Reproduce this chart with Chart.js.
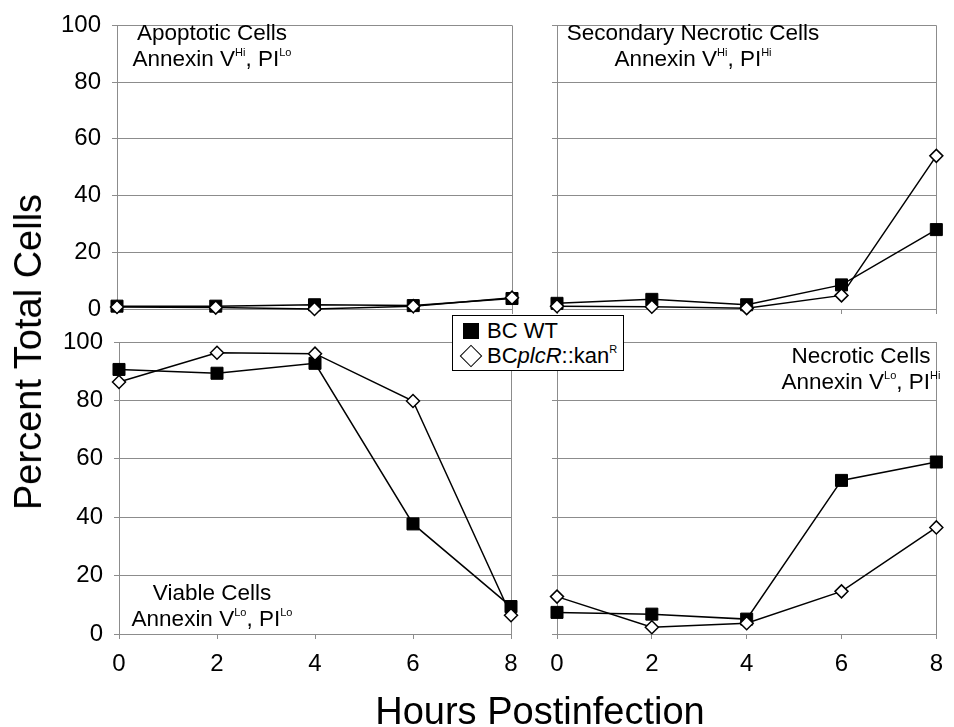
<!DOCTYPE html>
<html>
<head>
<meta charset="utf-8">
<script src="https://cdn.jsdelivr.net/npm/chart.js@4.4.1/dist/chart.umd.min.js"></script>
<style>
    body { margin: 0; background: #fff; }
    #wrap { position: relative; width: 954px; height: 727px; overflow: hidden; font-family: 'Liberation Sans', Arial, sans-serif; color: #000; }
    #wrap canvas { position: absolute; left: 0; top: 0; }
    .lbl { position: absolute; font-size: 22.5px; line-height: 26px; text-align: center; white-space: nowrap; transform: translateX(-50%); }
    .lbl sup, #legend sup { font-size: 11px; vertical-align: baseline; position: relative; top: -10px; }
    .title { position: absolute; font-size: 38px; line-height: 38px; white-space: nowrap; }
    #legend { position: absolute; left: 452px; top: 315px; width: 170px; height: 54px; border: 1.5px solid #000; background: #fff; }
    #legend .txt { position: absolute; left: 34px; font-size: 22px; line-height: 24px; white-space: nowrap; }
</style>
</head>
<body>
<div id="wrap">
    <canvas id="apoptotic" width="954" height="727"></canvas>
    <canvas id="secNecrotic" width="954" height="727"></canvas>
    <canvas id="viable" width="954" height="727"></canvas>
    <canvas id="necrotic" width="954" height="727"></canvas>

    <div class="lbl" style="left:212px; top:20px;">Apoptotic Cells<br>Annexin V<sup>Hi</sup>, PI<sup>Lo</sup></div>
    <div class="lbl" style="left:693px; top:20px;">Secondary Necrotic Cells<br>Annexin V<sup>Hi</sup>, PI<sup>Hi</sup></div>
    <div class="lbl" style="left:212px; top:580px;">Viable Cells<br>Annexin V<sup>Lo</sup>, PI<sup>Lo</sup></div>
    <div class="lbl" style="left:861px; top:343px;">Necrotic Cells<br>Annexin V<sup>Lo</sup>, PI<sup>Hi</sup></div>

    <div class="title" style="left:28px; top:352px; transform: translate(-50%, -50%) rotate(-90deg);">Percent Total Cells</div>
    <div class="title" style="left:540px; top:692px; transform: translateX(-50%);">Hours Postinfection</div>

    <div id="legend">
        <div style="position:absolute; left:10px; top:7px; width:16px; height:16px; background:#000;"></div>
        <div style="position:absolute; left:10px; top:32px; width:14px; height:14px; border:1.5px solid #000; background:#fff; transform: rotate(45deg);"></div>
        <div class="txt" style="top:3px;">BC WT</div>
        <div class="txt" style="top:28px;">BC<i>plcR</i>::kan<sup>R</sup></div>
    </div>
</div>

<script>
// hours postinfection
const hours = [0, 2, 4, 6, 8];
const yTicks = [0, 20, 40, 60, 80, 100];

// percent of total cells
const apoptoticWT = [1.0, 1.0, 1.5, 1.2, 3.7];
const apoptoticMut = [0.7, 0.5, 0.0, 1.0, 4.0];

const secNecroticWT = [2.0, 3.4, 1.5, 8.5, 28.0];
const secNecroticMut = [1.0, 0.8, 0.3, 4.8, 54.0];

const viableWT = [90.6, 89.3, 92.7, 37.7, 9.4];
const viableMut = [86.3, 96.3, 96.0, 79.8, 6.4];

const necroticWT = [7.4, 6.8, 5.1, 52.6, 58.9];
const necroticMut = [12.8, 2.3, 3.7, 14.6, 36.5];

const gridGray = '#8c8c8c';
const fontFamily = "'Liberation Sans', Arial, sans-serif";
const Y_W = 60;
const X_H = 40;

function toPoints(values) {
    return hours.map((h, i) => ({ x: h, y: values[i] }));
}

function makePanel(id, box, wt, mut, showY, showX) {
    const ctx = document.getElementById(id).getContext('2d');
    return new Chart(ctx, {
        type: 'line',
        data: {
            datasets: [
                {
                    label: 'BC WT',
                    data: toPoints(wt),
                    borderColor: '#000',
                    borderWidth: 1.5,
                    pointStyle: 'rect',
                    pointRadius: 8.5,
                    pointBackgroundColor: '#000',
                    pointBorderColor: '#000',
                    pointBorderWidth: 1,
                    clip: false,
                    order: 1
                },
                {
                    label: 'BCplcR::kanR',
                    data: toPoints(mut),
                    borderColor: '#000',
                    borderWidth: 1.5,
                    pointStyle: 'rectRot',
                    pointRadius: 6.5,
                    pointBackgroundColor: '#fff',
                    pointBorderColor: '#000',
                    pointBorderWidth: 1.5,
                    clip: false,
                    order: 0
                }
            ]
        },
        options: {
            responsive: false,
            animation: false,
            devicePixelRatio: 1,
            layout: {
                autoPadding: false,
                padding: {
                    left: box.left - Y_W,
                    top: box.top,
                    right: 954 - box.right,
                    bottom: 727 - box.bottom - X_H
                }
            },
            plugins: {
                legend: { display: false },
                tooltip: { enabled: false }
            },
            scales: {
                x: {
                    type: 'linear',
                    min: 0,
                    max: 8,
                    afterFit: s => { s.height = X_H; },
                    afterBuildTicks: s => { s.ticks = hours.map(v => ({ value: v })); },
                    border: { color: gridGray, width: 1 },
                    grid: {
                        // only the frame edges at 0 and 8, tick marks at every step
                        color: c => (c.tick && (c.tick.value === 0 || c.tick.value === 8)) ? gridGray : 'rgba(0,0,0,0)',
                        tickColor: gridGray,
                        tickLength: 5,
                        lineWidth: 1
                    },
                    ticks: {
                        padding: 11,
                        maxRotation: 0,
                        color: showX ? '#000' : 'rgba(0,0,0,0)',
                        font: { family: fontFamily, size: 24 }
                    }
                },
                y: {
                    min: 0,
                    max: 100,
                    afterFit: s => { s.width = Y_W; },
                    afterBuildTicks: s => { s.ticks = yTicks.map(v => ({ value: v })); },
                    border: { color: gridGray, width: 1 },
                    grid: {
                        color: gridGray,
                        tickColor: gridGray,
                        tickLength: 5,
                        lineWidth: 1
                    },
                    ticks: {
                        padding: 11,
                        color: showY ? '#000' : 'rgba(0,0,0,0)',
                        font: { family: fontFamily, size: 24 }
                    }
                }
            }
        }
    });
}

makePanel('apoptotic', { left: 117, right: 512, top: 18, bottom: 309 }, apoptoticWT, apoptoticMut, true, false);
makePanel('secNecrotic', { left: 557, right: 940, top: 18, bottom: 309 }, secNecroticWT, secNecroticMut, false, false);
makePanel('viable', { left: 119, right: 511, top: 342, bottom: 634 }, viableWT, viableMut, true, true);
makePanel('necrotic', { left: 557, right: 947, top: 342, bottom: 634 }, necroticWT, necroticMut, false, true);
</script>
</body>
</html>
